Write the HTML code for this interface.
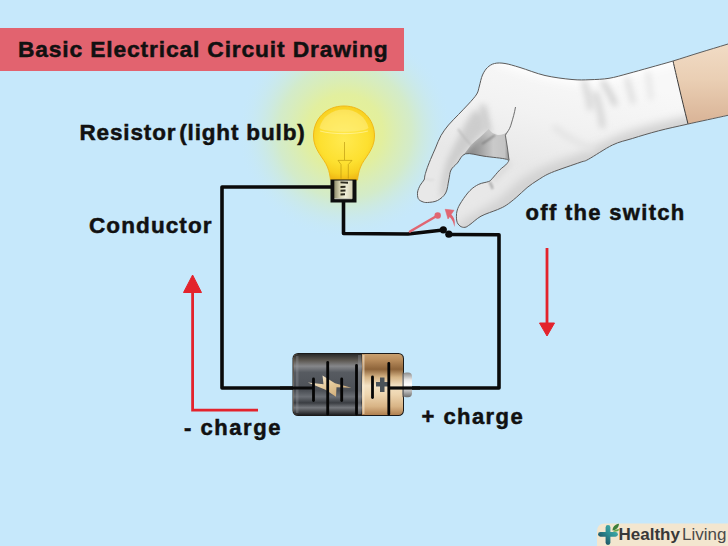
<!DOCTYPE html>
<html><head><meta charset="utf-8">
<style>
html,body{margin:0;padding:0;width:728px;height:546px;overflow:hidden;background:#c6e8fb;}
svg{display:block;position:absolute;left:0;top:0;}
text{font-family:"Liberation Sans",sans-serif;font-weight:bold;fill:#111;stroke:#111;stroke-width:0.5;white-space:pre;}
</style></head>
<body>
<svg width="728" height="546" viewBox="0 0 728 546">
<defs>
  <radialGradient id="glow" cx="345" cy="132" r="108" gradientUnits="userSpaceOnUse">
    <stop offset="0" stop-color="#eaf290"/>
    <stop offset="0.35" stop-color="#e2ef9e"/>
    <stop offset="0.62" stop-color="#d6ecbe" stop-opacity="0.8"/>
    <stop offset="1" stop-color="#c6e8fb" stop-opacity="0"/>
  </radialGradient>
  <radialGradient id="bulbg" cx="344" cy="140" r="40" gradientUnits="userSpaceOnUse">
    <stop offset="0" stop-color="#ffea50"/>
    <stop offset="0.6" stop-color="#fde030"/>
    <stop offset="0.85" stop-color="#f8d020"/>
    <stop offset="1" stop-color="#f0b814"/>
  </radialGradient>
  <linearGradient id="batblack" x1="0" y1="0" x2="0" y2="1">
    <stop offset="0" stop-color="#2a2a2a"/>
    <stop offset="0.1" stop-color="#5a554e"/>
    <stop offset="0.2" stop-color="#86878a"/>
    <stop offset="0.3" stop-color="#575b61"/>
    <stop offset="0.6" stop-color="#4c5056"/>
    <stop offset="0.7" stop-color="#6a6e74"/>
    <stop offset="0.8" stop-color="#3a3d42"/>
    <stop offset="0.88" stop-color="#75787d"/>
    <stop offset="1" stop-color="#1e1e20"/>
  </linearGradient>
  <linearGradient id="batcopper" x1="0" y1="0" x2="0" y2="1">
    <stop offset="0" stop-color="#c8a070"/>
    <stop offset="0.1" stop-color="#b88c5c"/>
    <stop offset="0.25" stop-color="#8e643a"/>
    <stop offset="0.38" stop-color="#d6b486"/>
    <stop offset="0.52" stop-color="#f4e2c4"/>
    <stop offset="0.66" stop-color="#eed6b0"/>
    <stop offset="0.86" stop-color="#d8b486"/>
    <stop offset="1" stop-color="#b08050"/>
  </linearGradient>
  <linearGradient id="nub" x1="0" y1="0" x2="0" y2="1">
    <stop offset="0" stop-color="#8a8a8a"/>
    <stop offset="0.3" stop-color="#e8e8e8"/>
    <stop offset="0.5" stop-color="#ffffff"/>
    <stop offset="0.75" stop-color="#bdbdbd"/>
    <stop offset="1" stop-color="#6e6e6e"/>
  </linearGradient>
  <linearGradient id="skin" x1="0" y1="0" x2="0" y2="1">
    <stop offset="0" stop-color="#f3dfca"/>
    <stop offset="0.5" stop-color="#eacfb4"/>
    <stop offset="1" stop-color="#d9b396"/>
  </linearGradient>
  <linearGradient id="teal" gradientUnits="userSpaceOnUse" x1="616" y1="527" x2="601" y2="542">
    <stop offset="0" stop-color="#45b5b0"/>
    <stop offset="0.5" stop-color="#2c8a90"/>
    <stop offset="1" stop-color="#1d4a5e"/>
  </linearGradient>
  <linearGradient id="palmg" gradientUnits="userSpaceOnUse" x1="466" y1="150" x2="508" y2="150">
    <stop offset="0" stop-color="#7c7c7c"/>
    <stop offset="0.35" stop-color="#a2a2a2"/>
    <stop offset="0.65" stop-color="#cacaca"/>
    <stop offset="0.92" stop-color="#c4c4c4"/>
    <stop offset="1" stop-color="#9a9a9a"/>
  </linearGradient>
  <linearGradient id="bolt" x1="0" y1="0" x2="1" y2="1">
    <stop offset="0" stop-color="#fbf1dc"/>
    <stop offset="0.5" stop-color="#e3c797"/>
    <stop offset="1" stop-color="#c9a16c"/>
  </linearGradient>
  <linearGradient id="baseg" x1="0" y1="0" x2="1" y2="0">
    <stop offset="0" stop-color="#8e8c6c"/>
    <stop offset="0.3" stop-color="#d6d2b0"/>
    <stop offset="0.6" stop-color="#f0eed8"/>
    <stop offset="1" stop-color="#d4d0b0"/>
  </linearGradient>
  <linearGradient id="gloveg" gradientUnits="userSpaceOnUse" x1="585" y1="72" x2="560" y2="175">
    <stop offset="0" stop-color="#f8f8f8"/>
    <stop offset="0.5" stop-color="#f2f2f2"/>
    <stop offset="1" stop-color="#e8e8e8"/>
  </linearGradient>
  <filter id="blur1" filterUnits="userSpaceOnUse" x="0" y="0" width="728" height="546"><feGaussianBlur stdDeviation="1"/></filter>
  <filter id="blur3" filterUnits="userSpaceOnUse" x="0" y="0" width="728" height="546"><feGaussianBlur stdDeviation="3"/></filter>
  <filter id="blur5" filterUnits="userSpaceOnUse" x="0" y="0" width="728" height="546"><feGaussianBlur stdDeviation="5"/></filter>
  
</defs>

<!-- glow -->
<circle cx="345" cy="132" r="108" fill="url(#glow)"/>

<!-- title banner -->
<rect x="0" y="28" width="404" height="43" fill="#e2636f"/>
<text x="18" y="57" font-size="22.8" letter-spacing="0.85">Basic Electrical Circuit Drawing</text>

<!-- labels -->
<text x="79.5" y="140" font-size="22.5" letter-spacing="0.85">Resistor</text>
<text x="179.2" y="140" font-size="22.5" letter-spacing="0.85">(light bulb)</text>
<text x="89" y="233.2" font-size="22.5" letter-spacing="1.1">Conductor</text>
<text x="525.6" y="220.3" font-size="22" letter-spacing="1.3">off the switch</text>
<text x="184" y="435" font-size="22" letter-spacing="1.55">- charge</text>
<text x="421.6" y="424.2" font-size="22" letter-spacing="1.42">+ charge</text>

<!-- wires -->
<g fill="none" stroke="#0a0a0a" stroke-width="3.6" stroke-linejoin="round" stroke-linecap="round">
  <path d="M332,187 L222,187 L222,388 L300,388"/>
  <path d="M343.5,200 L343.5,233.5 L408,234 L443,230"/>
  <path d="M448.5,234.5 L499,234.8 L499,388 L400,388"/>
</g>
<circle cx="443.3" cy="229.8" r="3.6" fill="#0a0a0a"/>
<circle cx="448.8" cy="234.2" r="3.6" fill="#0a0a0a"/>

<!-- switch lever -->
<line x1="410" y1="231.5" x2="437.5" y2="215.5" stroke="#e06672" stroke-width="2.6" stroke-linecap="round"/>
<circle cx="437.7" cy="215.5" r="3.2" fill="#e06672"/>
<!-- curved arrow -->
<path d="M448.5,213 C453.5,215 456,220 454.3,227 C453.5,221.5 451.5,218 447.5,215.5 Z" fill="#e06672"/>
<path d="M445.2,209.3 L454,210.3 L448,219 Z" fill="#e06672" stroke="#e06672" stroke-width="0.6" stroke-linejoin="round"/>

<!-- red arrows -->
<g fill="none" stroke="#e3232c" stroke-width="2.8">
  <path d="M192.6,290 L192.6,410.2 L258,410.2"/>
  <path d="M547,248 L547,325"/>
</g>
<path d="M192.6,275 L201.5,292.5 L183.5,292.5 Z" fill="#e3232c" stroke="#e3232c" stroke-width="1" stroke-linejoin="round"/>
<path d="M547,336 L554.5,323 L539.5,323 Z" fill="#e3232c" stroke="#e3232c" stroke-width="1" stroke-linejoin="round"/>

<!-- bulb -->
<path d="M344,106 C362,106 374.5,119 374.5,136 C374.5,150 364,158 360.5,167 C358.5,172 358,176 357.5,180 L330.5,180 C330,176 329.5,172 327.5,167 C324,158 313.5,150 313.5,136 C313.5,119 326,106 344,106 Z" fill="url(#bulbg)" stroke="#f0b818" stroke-width="1"/>
<path d="M344,109.5 C356,109.5 366,117 368.5,128 C362,133 326,133 319.5,128 C322,117 332,109.5 344,109.5 Z" fill="#fff4a8" opacity="0.4"/>
<path d="M320,131 C334,134.5 354,134.5 368,131" fill="none" stroke="#fff6b0" stroke-width="1.2" opacity="0.6"/>
<g stroke="#b8940e" stroke-width="0.9" fill="none" opacity="0.7">
  <path d="M344.5,142 L344.5,160 M338,160.4 L352,160.4 M338,160.4 L341,164.5 M352,160.4 L348.3,164.5 M341,164.5 L341,178.6 M348.3,164.5 L348.3,178.6"/>
</g>
<!-- bulb base -->
<rect x="330.5" y="179.5" width="26" height="23" fill="#0e0e0e"/>
<rect x="334.3" y="180.5" width="18.2" height="18.3" fill="url(#baseg)"/>
<g fill="#2c2a1e">
  <path d="M340.5,181.5 L348,181.8 L348,183.8 L340.5,183.3 Z"/>
  <path d="M340.5,186 L345.5,185.8 L345.5,187.8 L340.5,188 Z"/>
  <path d="M340.5,189.8 L345.5,189.5 L345.5,191.5 L340.5,191.8 Z"/>
  <path d="M340.5,193.5 L345,193.2 L345,195.2 L340.5,195.5 Z"/>
</g>
<rect x="334.5" y="198.2" width="17.5" height="1" fill="#c8c8b8"/>

<!-- battery -->
<rect x="292.5" y="353" width="111.5" height="63" rx="5.5" fill="#1a1a1a"/>
<rect x="293.5" y="354" width="109.5" height="61" rx="4.5" fill="url(#batcopper)"/>
<path d="M298,354 L362,354 L362,415 L298,415 Q293.5,415 293.5,410.5 L293.5,358.5 Q293.5,354 298,354 Z" fill="url(#batblack)"/>
<rect x="402.5" y="372.4" width="9.5" height="24.8" rx="4" fill="url(#nub)"/>
<rect x="362.5" y="355" width="2" height="59" fill="#fbf0dc" opacity="0.55"/>
<rect x="358" y="355" width="3" height="59" fill="#9a9ea4" opacity="0.35"/>
<rect x="296" y="356" width="2.5" height="57" fill="#9a9ea4" opacity="0.3"/>
<rect x="402.5" y="372.4" width="1.2" height="24.8" fill="#5a5a5a"/>
<line x1="280" y1="388" x2="314" y2="388" stroke="#0a0a0a" stroke-width="3.2"/>
<line x1="388" y1="388" x2="420" y2="388" stroke="#0a0a0a" stroke-width="3.2"/>
<path d="M376,382 L380,382 L380,377.5 L384.5,377.5 L384.5,382 L389,382 L389,386.5 L384.5,386.5 L384.5,392 L380,392 L380,386.5 L376,386.5 Z" fill="#4a5258"/>
<path d="M307.8,382.4 L323.5,384.2 L322.5,375.5 L335,383.2 L351.5,387.8 L336.5,387.3 L336,396.8 L325.5,389.8 Z" fill="url(#bolt)"/>
<g stroke="#050505" stroke-width="2.8" stroke-linecap="round">
  <line x1="313.5" y1="379" x2="313.5" y2="400.5"/>
  <line x1="327.7" y1="362.5" x2="327.7" y2="414"/>
  <line x1="341.7" y1="379" x2="341.7" y2="400.5"/>
  <line x1="356.5" y1="365.5" x2="356.5" y2="414"/>
  <line x1="372.5" y1="377" x2="372.5" y2="397.5"/>
  <line x1="388.8" y1="363.5" x2="388.8" y2="414"/>
</g>

<!-- glove -->
<g>
  <clipPath id="gclip"><path d="M760.0,34.0 C754.7,35.7 738.0,40.9 728.0,44.0 C718.0,47.1 709.2,49.7 700.0,52.5 C690.8,55.3 681.3,58.5 673.0,61.0 C664.7,63.5 657.5,65.4 650.0,67.5 C642.5,69.6 634.8,71.8 628.0,73.6 C621.2,75.4 615.3,77.3 609.0,78.3 C602.7,79.3 596.2,79.5 590.0,79.7 C583.8,79.9 579.5,80.2 572.0,79.5 C564.5,78.8 553.7,77.5 545.0,75.5 C536.3,73.5 526.7,69.5 520.0,67.5 C513.3,65.5 509.2,64.2 505.0,63.5 C500.8,62.8 497.4,62.8 494.5,63.5 C491.6,64.2 489.5,65.6 487.5,67.5 C485.5,69.4 483.9,71.9 482.5,75.0 C481.1,78.1 480.3,82.8 479.4,86.0 C478.4,89.2 478.6,91.0 476.8,94.0 C475.0,97.0 471.6,100.6 468.5,104.0 C465.4,107.4 461.8,111.0 458.5,114.5 C455.2,118.0 451.4,121.5 448.5,125.0 C445.6,128.5 443.2,131.7 441.0,135.5 C438.8,139.3 437.2,144.0 435.5,148.0 C433.8,152.0 432.0,155.8 430.5,159.5 C429.0,163.2 427.4,167.2 426.5,170.0 C425.6,172.8 425.2,174.3 424.8,176.0 C424.4,177.7 424.8,178.5 424.0,180.0 C423.2,181.5 421.3,183.2 420.2,185.2 C419.2,187.2 417.9,189.8 417.6,192.0 C417.3,194.2 417.5,196.9 418.2,198.5 C418.9,200.1 420.4,200.8 422.0,201.5 C423.6,202.2 424.9,202.7 427.5,202.5 C430.1,202.3 434.5,202.1 437.5,200.5 C440.5,198.9 443.8,196.4 445.7,193.0 C447.6,189.6 447.9,183.8 448.8,180.0 C449.7,176.2 449.6,172.8 451.0,170.0 C452.4,167.2 455.0,165.7 457.4,163.0 C459.8,160.3 461.2,154.9 465.6,153.8 C470.0,152.7 477.2,155.3 484.0,156.2 C490.8,157.2 502.7,158.1 506.5,159.3 C510.3,160.5 508.1,161.7 507.0,163.5 C505.9,165.3 502.2,167.4 499.7,170.0 C497.2,172.6 493.8,176.9 492.0,178.8 C490.2,180.7 490.9,180.6 488.7,181.5 C486.5,182.4 481.9,182.8 478.8,184.3 C475.7,185.8 472.9,187.6 470.0,190.5 C467.1,193.4 463.8,198.1 461.6,201.5 C459.4,204.9 457.8,207.8 457.0,211.0 C456.2,214.2 456.3,218.5 456.8,221.0 C457.3,223.5 458.6,224.9 460.0,226.0 C461.4,227.1 463.3,227.6 465.0,227.3 C466.7,227.1 467.3,226.3 470.0,224.5 C472.7,222.7 476.4,218.7 481.0,216.2 C485.6,213.7 493.3,211.4 497.5,209.6 C501.7,207.8 503.2,207.2 506.3,205.2 C509.4,203.2 512.7,200.4 516.2,197.5 C519.7,194.6 523.5,190.5 527.1,187.6 C530.8,184.7 534.0,182.4 538.1,179.9 C542.2,177.4 544.6,175.4 551.6,172.5 C558.6,169.6 573.9,164.6 580.0,162.4 C586.1,160.2 583.0,162.2 588.4,159.3 C593.8,156.4 605.2,148.5 612.5,145.0 C619.8,141.5 624.6,140.9 632.3,138.5 C640.0,136.1 649.5,133.2 658.7,130.8 C667.9,128.4 675.8,126.8 687.3,124.2 C698.8,121.6 715.9,118.0 728.0,115.3 C740.1,112.6 754.7,109.2 760.0,108.0 Z"/></clipPath>
  <g clip-path="url(#gclip)">
    <rect x="400" y="30" width="340" height="210" fill="url(#gloveg)"/>
    <g filter="url(#blur5)" fill="none" stroke-linecap="round">
      <path d="M465,229 C475,222 495,212 504,205.6 C515,196 522,188 527,185 C540,177 560,168 580,162 C600,154 612,145 632,138.5 C650,133 670,128 690,124" stroke="#d2d2d2" stroke-width="16"/>
      <path d="M500,60 C520,66 545,75 580,80 C610,78 640,68 675,60" stroke="#ffffff" stroke-width="10"/>
    </g>
    <g filter="url(#blur3)" fill="none" stroke-linecap="round">
      <path d="M584,82 C587,90 589,98 590,108" stroke="#d2d2d2" stroke-width="5"/>
      <path d="M603,82 C607,88 611,95 615,104" stroke="#c2c2c2" stroke-width="4"/>
      <path d="M596,94 C599,104 601,114 602.5,126" stroke="#d0d0d0" stroke-width="5"/>
      <path d="M627,79 C629,86 631,93 633,102" stroke="#d6d6d6" stroke-width="4"/>
      <path d="M648,73 C649,82 650,90 651,98" stroke="#e2e2e2" stroke-width="4"/>
      <path d="M555,128 C568,138 580,145 592,149" stroke="#e4e4e4" stroke-width="6"/>
      <path d="M493,180 C499,174 504,169 509,163" stroke="#cdcdcd" stroke-width="3"/>
    </g>
    <!-- palm underside -->
    <path d="M462,157 L471,145 C476,140 483,135 488.7,129 C491,132 494,134.5 498,135 C502,135 506,133.5 508,131.5 L505.5,136 C507,144 508,152 509.5,161 Z" fill="url(#palmg)"/>
    <path d="M495,135 C490,139 486,141 482,144" fill="none" stroke="#6e6e6e" stroke-width="1.3" filter="url(#blur1)"/>
    <path d="M515.5,107 C514.5,113 513,118 511.5,123 C510.5,127 509,130 507,132.5 C506,134 505,135 505.5,136 C507,144 508,152 509,160" fill="none" stroke="#5e5e5e" stroke-width="0.9"/>
    <g filter="url(#blur3)" fill="none" stroke-linecap="round">
      <path d="M483,108 C485,116 486,123 488,130" stroke="#cccccc" stroke-width="7"/>
    </g>
    <path d="M466,122 L474,110 L484,114 L486,130 L470,147 L457,163 L450,178 L447,194 L440,198 L442,178 L447,160 L456,142 Z" fill="#cdcdcd" filter="url(#blur3)"/>
    <path d="M458,129 C462,135 466,140 471,145" fill="none" stroke="#bdbdbd" stroke-width="1.5" filter="url(#blur1)"/>
    <path d="M489.5,182 C491,184 492,186 492.5,189" fill="none" stroke="#a8a8a8" stroke-width="2.2" filter="url(#blur1)"/>
    <path d="M425,178.5 C428,180 431,180.5 434,179.5" fill="none" stroke="#d6d6d6" stroke-width="1.2" filter="url(#blur1)"/>
    <path d="M673,61 C676,74 681,96 688,124 L760,108 L760,34 Z" fill="url(#skin)"/>
    <path d="M673,61 C676,74 681,96 688,124" fill="none" stroke="#3a3a3a" stroke-width="1"/>
  </g>
  <path d="M760.0,34.0 C754.7,35.7 738.0,40.9 728.0,44.0 C718.0,47.1 709.2,49.7 700.0,52.5 C690.8,55.3 681.3,58.5 673.0,61.0 C664.7,63.5 657.5,65.4 650.0,67.5 C642.5,69.6 634.8,71.8 628.0,73.6 C621.2,75.4 615.3,77.3 609.0,78.3 C602.7,79.3 596.2,79.5 590.0,79.7 C583.8,79.9 579.5,80.2 572.0,79.5 C564.5,78.8 553.7,77.5 545.0,75.5 C536.3,73.5 526.7,69.5 520.0,67.5 C513.3,65.5 509.2,64.2 505.0,63.5 C500.8,62.8 497.4,62.8 494.5,63.5 C491.6,64.2 489.5,65.6 487.5,67.5 C485.5,69.4 483.9,71.9 482.5,75.0 C481.1,78.1 480.3,82.8 479.4,86.0 C478.4,89.2 478.6,91.0 476.8,94.0 C475.0,97.0 471.6,100.6 468.5,104.0 C465.4,107.4 461.8,111.0 458.5,114.5 C455.2,118.0 451.4,121.5 448.5,125.0 C445.6,128.5 443.2,131.7 441.0,135.5 C438.8,139.3 437.2,144.0 435.5,148.0 C433.8,152.0 432.0,155.8 430.5,159.5 C429.0,163.2 427.4,167.2 426.5,170.0 C425.6,172.8 425.2,174.3 424.8,176.0 C424.4,177.7 424.8,178.5 424.0,180.0 C423.2,181.5 421.3,183.2 420.2,185.2 C419.2,187.2 417.9,189.8 417.6,192.0 C417.3,194.2 417.5,196.9 418.2,198.5 C418.9,200.1 420.4,200.8 422.0,201.5 C423.6,202.2 424.9,202.7 427.5,202.5 C430.1,202.3 434.5,202.1 437.5,200.5 C440.5,198.9 443.8,196.4 445.7,193.0 C447.6,189.6 447.9,183.8 448.8,180.0 C449.7,176.2 449.6,172.8 451.0,170.0 C452.4,167.2 455.0,165.7 457.4,163.0 C459.8,160.3 461.2,154.9 465.6,153.8 C470.0,152.7 477.2,155.3 484.0,156.2 C490.8,157.2 502.7,158.1 506.5,159.3 C510.3,160.5 508.1,161.7 507.0,163.5 C505.9,165.3 502.2,167.4 499.7,170.0 C497.2,172.6 493.8,176.9 492.0,178.8 C490.2,180.7 490.9,180.6 488.7,181.5 C486.5,182.4 481.9,182.8 478.8,184.3 C475.7,185.8 472.9,187.6 470.0,190.5 C467.1,193.4 463.8,198.1 461.6,201.5 C459.4,204.9 457.8,207.8 457.0,211.0 C456.2,214.2 456.3,218.5 456.8,221.0 C457.3,223.5 458.6,224.9 460.0,226.0 C461.4,227.1 463.3,227.6 465.0,227.3 C466.7,227.1 467.3,226.3 470.0,224.5 C472.7,222.7 476.4,218.7 481.0,216.2 C485.6,213.7 493.3,211.4 497.5,209.6 C501.7,207.8 503.2,207.2 506.3,205.2 C509.4,203.2 512.7,200.4 516.2,197.5 C519.7,194.6 523.5,190.5 527.1,187.6 C530.8,184.7 534.0,182.4 538.1,179.9 C542.2,177.4 544.6,175.4 551.6,172.5 C558.6,169.6 573.9,164.6 580.0,162.4 C586.1,160.2 583.0,162.2 588.4,159.3 C593.8,156.4 605.2,148.5 612.5,145.0 C619.8,141.5 624.6,140.9 632.3,138.5 C640.0,136.1 649.5,133.2 658.7,130.8 C667.9,128.4 675.8,126.8 687.3,124.2 C698.8,121.6 715.9,118.0 728.0,115.3 C740.1,112.6 754.7,109.2 760.0,108.0" fill="none" stroke="#5a5a5a" stroke-width="1"/>
</g>

<!-- logo -->
<path d="M605,523.5 L728,523.5 L728,546 L597,546 L597,531.5 Q597,523.5 605,523.5 Z" fill="#f3e6cf"/>
<g stroke="url(#teal)" stroke-width="4.8" stroke-linecap="round">
  <line x1="600.5" y1="534.3" x2="615.5" y2="534.3"/>
  <line x1="608" y1="527.5" x2="608" y2="542.5"/>
</g>
<path d="M612.5,530.5 C612.5,527 615,524.5 619,523.8 C618.8,527.5 616.5,530 612.5,530.5 Z" fill="#3d7f3a"/>
<path d="M613,531.5 C615,529.5 617,529 619.5,529.5 C618,531.5 616,532 613,531.5 Z" fill="#6aa84f"/>
<text x="618.5" y="539.6" font-size="17" style="fill:#383838;stroke:none">Healthy</text>
<text x="682" y="539.6" font-size="17" style="fill:#4a4a4a;font-weight:normal;stroke:none">Living</text>
</svg>
</body></html>
